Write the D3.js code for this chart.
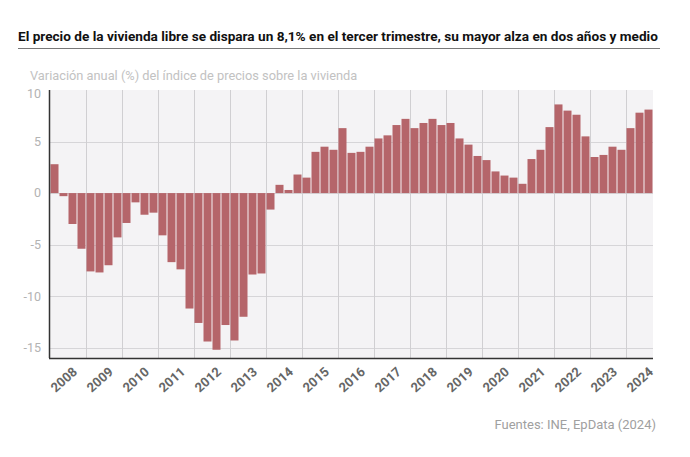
<!DOCTYPE html>
<html><head><meta charset="utf-8">
<script src="https://cdn.jsdelivr.net/npm/d3@7"></script>
<style>body{margin:0;background:#fff;font-family:Roboto,sans-serif}</style>
</head><body><svg id="c" width="690" height="457"></svg>
<script>
const years = ["2008","2009","2010","2011","2012","2013","2014","2015","2016","2017","2018","2019","2020","2021","2022","2023","2024"];
const quarters = ["T1","T2","T3","T4"];
const values = [
  2.8,-0.3,-3.0,-5.4,
  -7.6,-7.7,-7.0,-4.3,
  -2.9,-0.9,-2.1,-1.9,
  -4.1,-6.7,-7.4,-11.2,
  -12.6,-14.4,-15.2,-12.8,
  -14.3,-12.0,-7.9,-7.8,
  -1.6,0.8,0.3,1.8,
  1.5,4.0,4.5,4.2,
  6.3,3.9,4.0,4.5,
  5.3,5.6,6.6,7.2,
  6.3,6.8,7.2,6.6,
  6.8,5.3,4.7,3.6,
  3.2,2.1,1.7,1.5,
  0.9,3.3,4.2,6.4,
  8.6,8.0,7.6,5.5,
  3.5,3.7,4.5,4.2,
  6.3,7.8,8.1
];
const yTicks = [10,5,0,-5,-10,-15];
const title = "El precio de la vivienda libre se dispara un 8,1% en el tercer trimestre, su mayor alza en dos años y medio";
const subtitle = "Variación anual (%) del índice de precios sobre la vivienda";
const source = "Fuentes: INE, EpData (2024)";

const data = values.map((v,i)=>({key: years[Math.floor(i/4)]+"-"+quarters[i%4], year: years[Math.floor(i/4)], v}));
const svg = d3.select("#c");
const L=50,R=653,T=90,B=358;
const xs = d3.scaleLinear().domain([0,values.length]).range([L,R]);
const y = d3.scaleLinear().domain([-16,10]).range([B,T]);

const tt = svg.append("text").attr("x",18).attr("y",41).attr("font-size",15).attr("font-weight","bold").attr("fill","#111").text(title);
const w = tt.node().getComputedTextLength();
tt.attr("font-size", 15*640/w);
svg.append("line").attr("x1",18).attr("x2",660).attr("y1",48.5).attr("y2",48.5).attr("stroke","#777").attr("stroke-width",1.2);
svg.append("text").attr("x",30).attr("y",80).attr("font-size",12.8).attr("fill","#c2c2c2").text(subtitle);

svg.append("rect").attr("x",L).attr("y",T).attr("width",R-L).attr("height",B-T).attr("fill","#f4f3f5");
svg.append("g").selectAll("line").data(yTicks.filter(t=>t!==10)).join("line")
  .attr("x1",L).attr("x2",R).attr("y1",d=>Math.round(y(d))+0.5).attr("y2",d=>Math.round(y(d))+0.5)
  .attr("stroke","#d6d5d8").attr("stroke-width",1);
svg.append("g").selectAll("line").data(years.slice(1)).join("line")
  .attr("x1",(d,i)=>Math.round(xs((i+1)*4))+0.5).attr("x2",(d,i)=>Math.round(xs((i+1)*4))+0.5)
  .attr("y1",T).attr("y2",B).attr("stroke","#d0cfd2");

const bw = (R-L)/values.length;
svg.append("g").selectAll("rect").data(data).join("rect")
  .attr("x",(d,i)=>xs(i)+0.5).attr("width",bw-1)
  .attr("y",d=>y(Math.max(0,d.v))).attr("height",d=>Math.abs(y(d.v)-y(0)))
  .attr("fill","#b5656a");

svg.append("line").attr("x1",L-0.5).attr("x2",L-0.5).attr("y1",T).attr("y2",B).attr("stroke","#333").attr("stroke-width",1.5);
svg.append("line").attr("x1",L-1).attr("x2",R).attr("y1",B+0.5).attr("y2",B+0.5).attr("stroke","#333").attr("stroke-width",1.5);

svg.append("g").selectAll("text").data(yTicks).join("text")
  .attr("x",41).attr("y",d=>d===10?y(d)+4:y(d)).attr("dy","0.35em").attr("text-anchor","end")
  .attr("font-size",12.5).attr("fill","#b3b3b3").text(d=>d);

svg.append("g").selectAll("text").data(years).join("text")
  .attr("transform",(d,i)=>`translate(${xs(i*4+2)+10},${B+15}) rotate(-42)`)
  .attr("text-anchor","end").attr("font-size",13).attr("font-weight","bold").attr("fill","#666").text(d=>d);

svg.append("text").attr("x",656).attr("y",429).attr("text-anchor","end").attr("font-size",13).attr("fill","#a0a0a0").text(source);
</script></body></html>
